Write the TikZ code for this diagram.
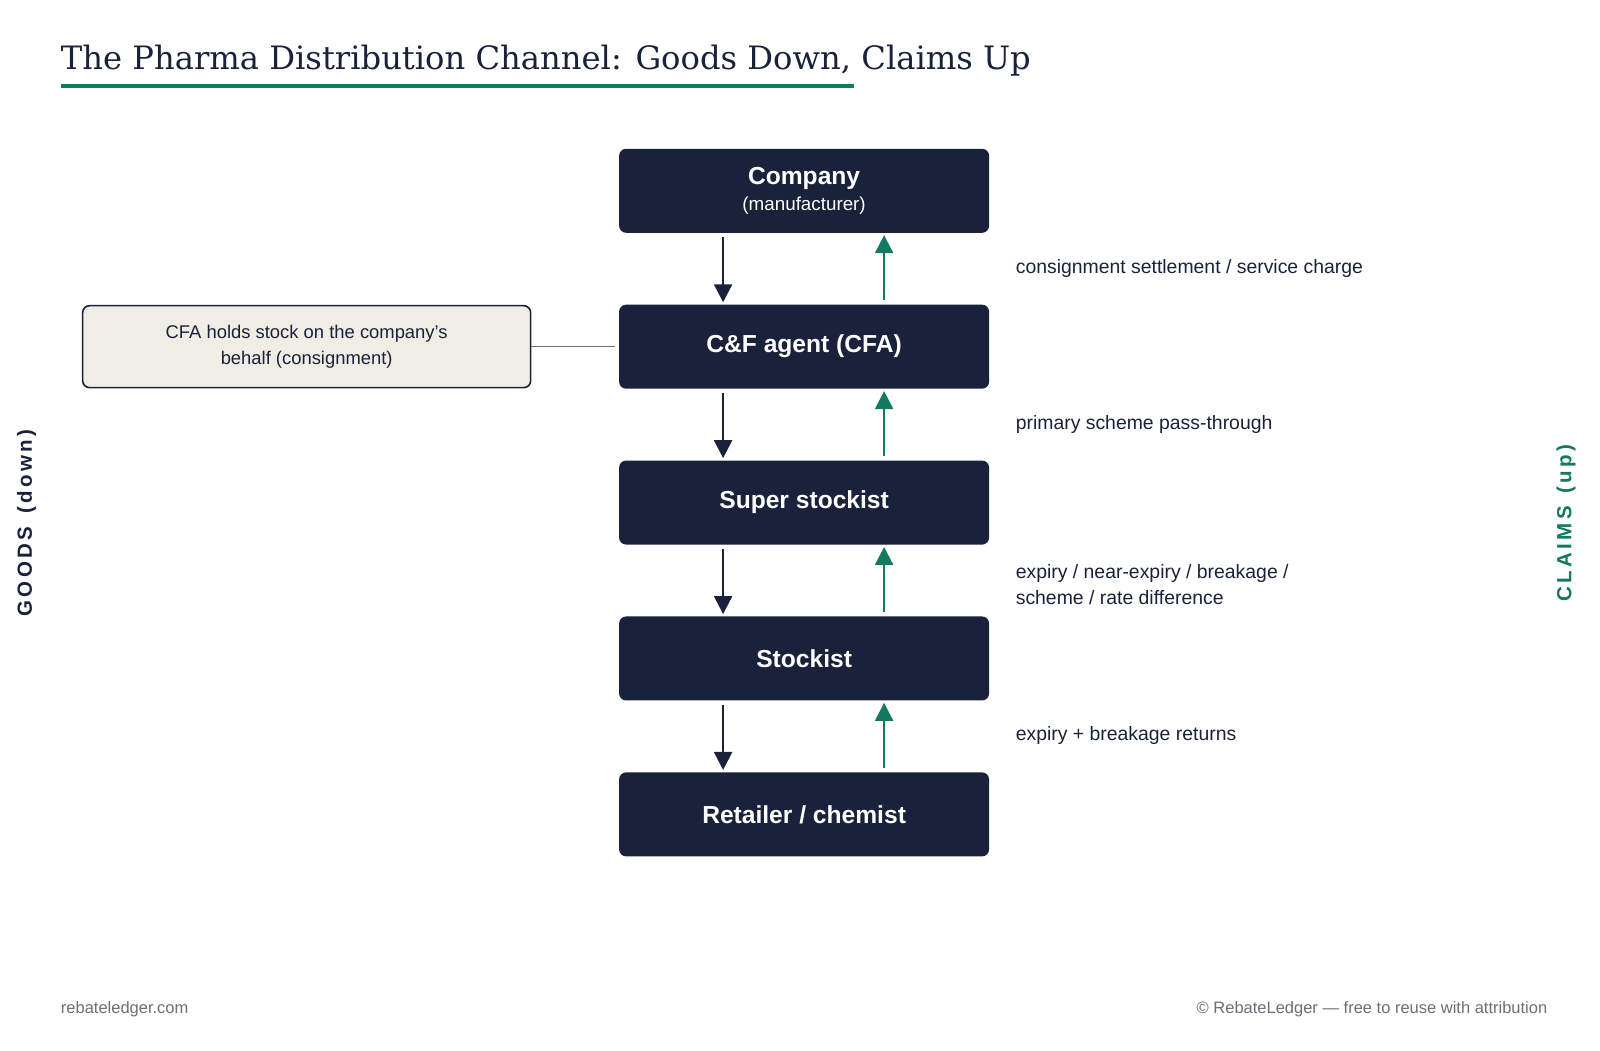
\documentclass[tikz,border=0pt]{standalone}
\usepackage{fontspec}
\setmainfont{Liberation Sans}
\newfontfamily\titlefont{DejaVu Serif}
\usetikzlibrary{arrows.meta}
\definecolor{navy}{HTML}{19223A}
\definecolor{claimgreen}{HTML}{13795F}
\definecolor{notefill}{HTML}{F0EDE5}
\definecolor{footgray}{HTML}{6B6F78}

\begin{document}
\begin{tikzpicture}[x=0.5128pt,y=-0.5128pt,
  level/.style={fill=navy, rounded corners=3.5pt, minimum width=185pt, minimum height=42pt, text=white, font=\fontsize{12.3}{14}\selectfont\bfseries, align=center},
  note/.style={fill=notefill, draw=navy, line width=0.8pt, rounded corners=3.5pt, minimum width=224pt, minimum height=41pt, text=navy, font=\fontsize{9.2}{13}\selectfont, align=center},
  flowlabel/.style={anchor=west, inner sep=0, text=navy, font=\fontsize{9.7}{13}\selectfont, align=left},
  goods/.style={draw=navy, line width=1.1pt, -{Triangle[length=9pt,width=9pt]}},
  claims/.style={draw=claimgreen, line width=1.1pt, -{Triangle[length=9pt,width=9pt]}}]
\useasboundingbox (0,0) rectangle (1560,1024);

% Title
\node[anchor=base west, inner sep=0, text=navy, font=\titlefont\fontsize{16.1}{20}\selectfont] (title) at (59,68) {The Pharma Distribution Channel: Goods Down, Claims Up};
\draw[claimgreen, line width=2pt] (59,84) -- (833,84);

% Channel levels
\node[level] (company) at (784,186) {Company\\[-1pt]{\fontsize{9.4}{11}\selectfont\mdseries (manufacturer)}};
\node[level] (cfa) at (784,338) {C\&F agent (CFA)};
\node[level] (super) at (784,490) {Super stockist};
\node[level] (stockist) at (784,642) {Stockist};
\node[level] (retailer) at (784,794) {Retailer / chemist};

% Goods down, claims up
\foreach \a/\b in {company/cfa, cfa/super, super/stockist, stockist/retailer}{
  \draw[goods] ([xshift=-40.5pt,yshift=-2pt]\a.south) -- ([xshift=-40.5pt,yshift=1pt]\b.north);
  \draw[claims] ([xshift=40pt,yshift=2pt]\b.north) -- ([xshift=40pt,yshift=-1pt]\a.south);
}

% Claim labels
\node[flowlabel] (lab1) at (990,262) {consignment settlement / service charge};
\node[flowlabel] (lab2) at (990,414) {primary scheme pass-through};
\node[flowlabel] (lab3) at (990,570) {expiry / near-expiry / breakage /\\scheme / rate difference};
\node[flowlabel] (lab4) at (990,717) {expiry + breakage returns};

% Consignment note
\node[note] (cfanote) at (299,338) {CFA holds stock on the company's\\behalf (consignment)};
\draw[footgray, line width=0.6pt] (cfanote.east) -- ([xshift=-2pt]cfa.west);

% Side labels
\node[rotate=90, text=navy, font=\fontsize{10.25}{12}\selectfont\bfseries] (goodslab) at (26,510) {G\,O\,O\,D\,S\, \,(\,d\,o\,w\,n\,)};
\node[rotate=90, text=claimgreen, font=\fontsize{10.25}{12}\selectfont\bfseries] (claimslab) at (1527,510) {C\,L\,A\,I\,M\,S\, \,(\,u\,p\,)};

% Footer
\node[anchor=west, inner sep=0, text=footgray, font=\fontsize{8.25}{10}\selectfont] (site) at (59,984) {rebateledger.com};
\node[anchor=east, inner sep=0, text=footgray, font=\fontsize{8.25}{10}\selectfont] (credit) at (1509,984) {© RebateLedger — free to reuse with attribution};
\end{tikzpicture}
\end{document}
